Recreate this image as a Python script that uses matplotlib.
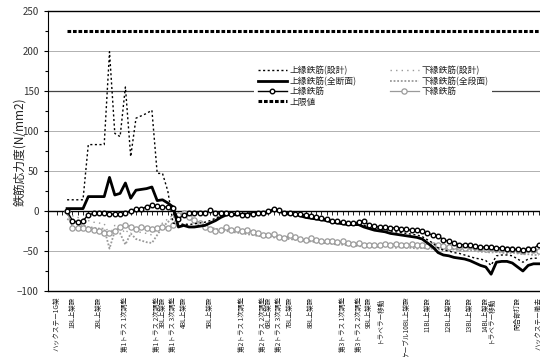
import numpy as np
import matplotlib
matplotlib.use("Agg")
import matplotlib.pyplot as plt
from matplotlib.ticker import MultipleLocator
import matplotlib.transforms as mtransforms

plt.rcParams['font.family'] = ['Noto Sans CJK JP', 'DejaVu Sans']

N = 92
nan = np.nan

upper_design = [nan, nan, 14, 14, 14, 14, 83, 83, 83, 83, 199, 97, 93, 155, 68, 116, 119, 122, 126, 47, 47, 25, -15, -18,
                -16, -17, -16, -15, -14, -12, -9, -6, -4, -3, -4, -3, -3, -2, -1, -2, -1, 3, 1, -2, -3, -3, -5, -7, -8, -9,
                -10, -11, -12, -13, -14, -15, -15, -15, -18, -20, -21, -22, -23, -25, -26, -27, -28, -29, -30, -32, -36,
                -40, -46, -49, -50, -52, -53, -55, -57, -59, -60, -62, -68, -56, -55, -55, -56, -60, -64, -60, -59, -59]

upper_full = [nan, nan, 3, 3, 3, 3, 18, 18, 18, 18, 42, 20, 22, 35, 16, 26, 27, 28, 30, 13, 14, 10, 5, -20,
              -18, -20, -20, -19, -18, -15, -12, -8, -5, -4, -5, -4, -4, -3, -2, -3, -2, 2, 0, -3, -4, -4, -6, -8, -9, -10,
              -11, -12, -14, -15, -16, -17, -17, -17, -20, -22, -24, -25, -26, -28, -29, -30, -31, -32, -33, -35, -40,
              -45, -52, -55, -56, -58, -59, -60, -62, -65, -68, -70, -79, -64, -63, -63, -65, -70, -75, -68, -66, -66]

upper_rebar = [nan, nan, 0, -12, -14, -12, -5, -3, -3, -2, -4, -4, -4, -3, 0, 2, 3, 5, 7, 6, 5, 5, 4, -10,
               -5, -3, -3, -2, -3, 1, -2, -3, -2, -4, -3, -5, -5, -4, -3, -2, 0, 2, 1, -2, -3, -4, -4, -5, -6, -8,
               -9, -10, -12, -13, -14, -15, -15, -14, -12, -18, -19, -20, -20, -21, -21, -22, -23, -24, -24, -25, -28,
               -30, -31, -36, -38, -40, -42, -42, -43, -44, -45, -45, -45, -46, -46, -47, -48, -48, -49, -48, -47, -42]

upper_limit = [nan, nan] + [225] * (N - 2)

lower_design = [nan, nan, -3, -6, -8, -10, -12, -14, -15, -16, -30, -18, -20, -28, -20, -25, -27, -28, -30, -22, -15, -10, -5, -3,
                -4, -9, -12, -16, -19, -21, -23, -24, -23, -25, -25, -27, -27, -28, -29, -31, -31, -31, -33, -34, -33, -34,
                -36, -37, -36, -37, -38, -39, -39, -40, -40, -41, -42, -42, -43, -43, -43, -44, -43, -43, -44, -44, -45,
                -44, -45, -45, -46, -45, -46, -46, -47, -47, -47, -48, -47, -48, -48, -49, -49, -49, -50, -50, -50, -51,
                -51, -50, -51, -52]

lower_full = [nan, nan, -10, -13, -16, -18, -20, -21, -22, -22, -47, -25, -28, -42, -28, -35, -37, -39, -40, -30, -20, -14, -8, -5,
              -5, -10, -14, -17, -20, -21, -22, -24, -25, -26, -27, -28, -29, -30, -31, -32, -32, -33, -34, -35, -35, -36,
              -37, -38, -38, -39, -40, -40, -41, -42, -42, -43, -43, -44, -44, -44, -45, -45, -44, -45, -46, -45, -46,
              -46, -47, -46, -47, -47, -48, -48, -49, -48, -49, -50, -49, -50, -51, -51, -52, -51, -52, -53, -52, -53,
              -54, -54, -55, -55]

lower_rebar = [nan, nan, 0, -21, -21, -21, -23, -24, -25, -28, -27, -25, -20, -17, -20, -22, -20, -21, -22, -21, -20, -21, -17, -5,
               -3, -8, -11, -15, -20, -22, -25, -24, -20, -24, -23, -25, -24, -26, -28, -30, -30, -29, -32, -34, -30, -33,
               -35, -36, -34, -36, -37, -38, -37, -39, -38, -40, -41, -40, -42, -42, -42, -43, -41, -42, -41, -42, -43,
               -41, -43, -42, -44, -43, -42, -44, -45, -44, -45, -46, -44, -45, -46, -47, -46, -47, -48, -47, -48, -49,
               -50, -48, -49, -50]

tick_labels = {
    0: "ハックステー1G架",
    3: "1BL上架設",
    8: "2BL上架設",
    13: "第1トラス 1次調整",
    19: "第1トラス 2次調整",
    20: "3BL上架設",
    22: "第1トラス 3次調整",
    24: "4BL上架設",
    29: "5BL上架設",
    35: "第2トラス 1次調整",
    39: "第2トラス 2次調整",
    40: "6BL上架設",
    42: "第2トラス 3次調整",
    44: "7BL上架設",
    48: "8BL上架設",
    54: "第3トラス 1次調整",
    57: "第3トラス 2次調整",
    59: "9BL上架設",
    61: "トラベラー移動",
    66: "ケーブル10BL上架設",
    70: "11BL上架設",
    74: "12BL上架設",
    78: "13BL上架設",
    81: "14BL上架設",
    82: "トラベラー移動",
    87: "閉合部打設",
    91: "ハックステー撤去",
}

W, H = 540, 357
fig = plt.figure(figsize=(W / 100, H / 100), dpi=100)
ax = fig.add_axes([48 / W, 1 - 291 / H, 1 - 48 / W, 280 / H])

x = np.arange(N)
gray = '#9a9a9a'

ax.plot(x, upper_design, color='black', lw=1.0, ls=(0, (1.5, 1.8)), label='上縁鉄筋(設計)', zorder=4)
ax.plot(x, upper_full, color='black', lw=2.0, ls='-', label='上縁鉄筋(全断面)', zorder=5)
ax.plot(x, upper_rebar, color='black', lw=1.0, marker='o', ms=3.3, mfc='white', mec='black', mew=1.0,
        label='上縁鉄筋', zorder=6)
ax.plot(x, upper_limit, color='black', lw=2.2, ls=(0, (1.2, 0.6)), label='上限値', zorder=4)
ax.plot(x, lower_design, color=gray, lw=1.0, ls=(0, (1, 3)), label='下縁鉄筋(設計)', zorder=3)
ax.plot(x, lower_full, color=gray, lw=1.3, ls=(0, (1, 1)), label='下縁鉄筋(全段面)', zorder=3)
ax.plot(x, lower_rebar, color=gray, lw=0.9, marker='o', ms=3.8, mfc='white', mec=gray, mew=0.9,
        label='下縁鉄筋', zorder=3)

x0 = (48 - 56.5) / 5.3
x1 = (540 - 56.5) / 5.3
ax.set_xlim(x0, x1)
ax.set_ylim(-100, 250)

ax.yaxis.set_major_locator(MultipleLocator(50))
ax.yaxis.set_minor_locator(MultipleLocator(25))
ax.tick_params(axis='y', which='both', direction='out', length=3, width=0.8, labelsize=7, labelcolor='#333333')
ax.tick_params(axis='y', which='minor', length=2)

for v in [200, 100, 50, -50]:
    ax.axhline(v, color='#b0b0b0', lw=0.7, zorder=1)
ax.axhline(150, color='#444444', lw=0.9, zorder=1)

ax.spines['right'].set_visible(False)
ax.spines['top'].set_linewidth(1.0)
ax.spines['left'].set_linewidth(0.8)
ax.spines['bottom'].set_position(('data', 0))
ax.spines['bottom'].set_linewidth(1.0)
ax.set_xticks(x)
ax.set_xticklabels([])
ax.tick_params(axis='x', direction='out', length=3, width=0.6)
ax.axhline(-100, color='black', lw=1.0, zorder=2, clip_on=False)

trans = mtransforms.blended_transform_factory(ax.transData, ax.transAxes)
for i, lab in tick_labels.items():
    ax.text(i, -0.02, lab, transform=trans, rotation=90, ha='center', va='top', fontsize=4.8, color='#222222')

fig.text(20 / W, 1 - 152 / H, '鉄筋応力度(N/mm2)', rotation=90, ha='center', va='center', fontsize=8.5, color='#222222')

leg = ax.legend(ncol=2, loc='upper left', bbox_to_anchor=(250 / W, 1 - 58 / H), bbox_transform=fig.transFigure,
                fontsize=6.3, handlelength=3.3, labelspacing=0.15, columnspacing=3.8, handletextpad=0.3,
                frameon=True, borderpad=0.4)
leg.get_frame().set_facecolor('white')
leg.get_frame().set_edgecolor('none')
leg.get_frame().set_alpha(1)
for t in leg.get_texts():
    t.set_color('#222222')

fig.savefig('out.png', dpi=100)
